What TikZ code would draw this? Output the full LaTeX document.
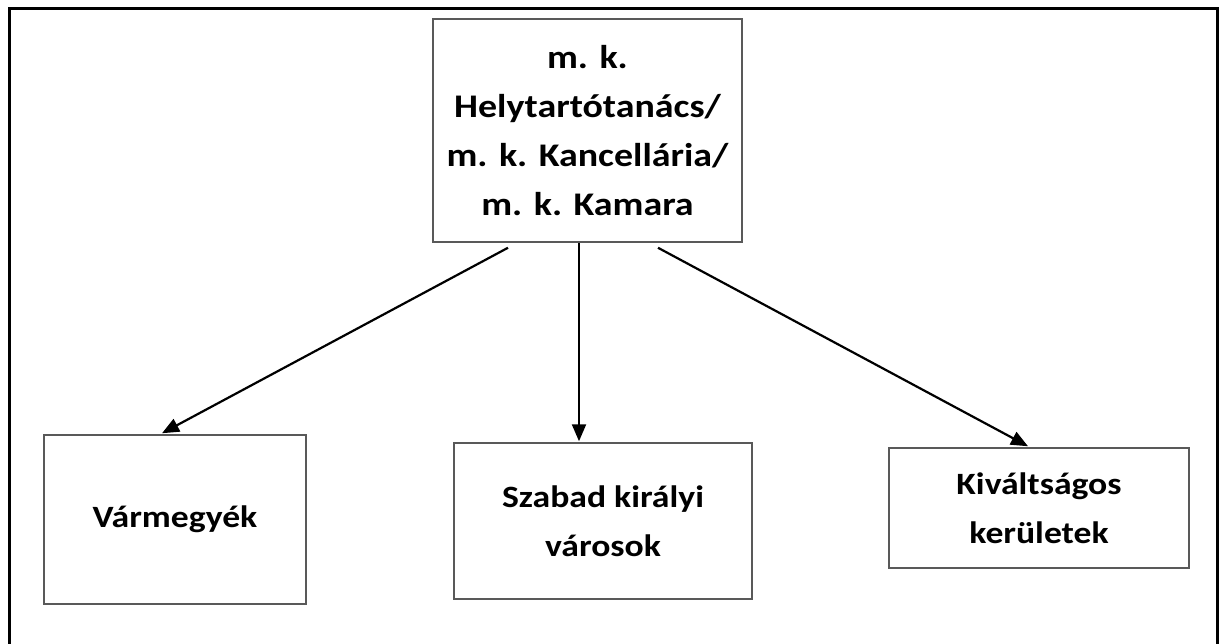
\documentclass[tikz,border=0pt]{standalone}
\usepackage{fontspec}
\setmainfont{Carlito}[FakeStretch=1.15]
\usetikzlibrary{arrows.meta}
\tikzset{
    box/.style={draw=black!65, line width=1.5pt, align=center, inner sep=0pt,
        font=\fontsize{31}{49}\selectfont\bfseries},
    arr/.style={line width=2.2pt, -{Triangle[length=17pt,width=14pt]}}
}
\begin{document}
\begin{tikzpicture}[x=1pt,y=-1pt]
                \useasboundingbox (0,0) rectangle (1222,644);
                \draw[line width=3pt] (9,650) -- (9,9) -- (1217,9) -- (1217,650);
                \node[box, font=\fontsize{33}{49.3}\selectfont\bfseries, minimum width=309pt, minimum height=223pt] (top) at (587.5,130.5)
                    {m. k.\\Helytartótanács/\\m. k. Kancellária/\\m. k. Kamara};
                \node[box, minimum width=262pt, minimum height=169pt] (vm) at (175,519.5) {Vármegyék};
                \node[box, minimum width=298pt, minimum height=156pt] (sz) at (603,521) {Szabad királyi\\városok};
                \node[box, minimum width=300pt, minimum height=120pt] (kv) at (1039,508) {Kiváltságos\\kerületek};
                \draw[arr] ([xshift=-79.5pt,yshift=-5pt]top.south) -- ([xshift=-13pt,yshift=1pt]vm.north);
                \draw[arr] ([xshift=-8.5pt]top.south) -- ([xshift=-24pt,yshift=1pt]sz.north);
                \draw[arr] ([xshift=70.5pt,yshift=-5pt]top.south) -- ([xshift=-11pt,yshift=1pt]kv.north);
            \end{tikzpicture}
\end{document}
